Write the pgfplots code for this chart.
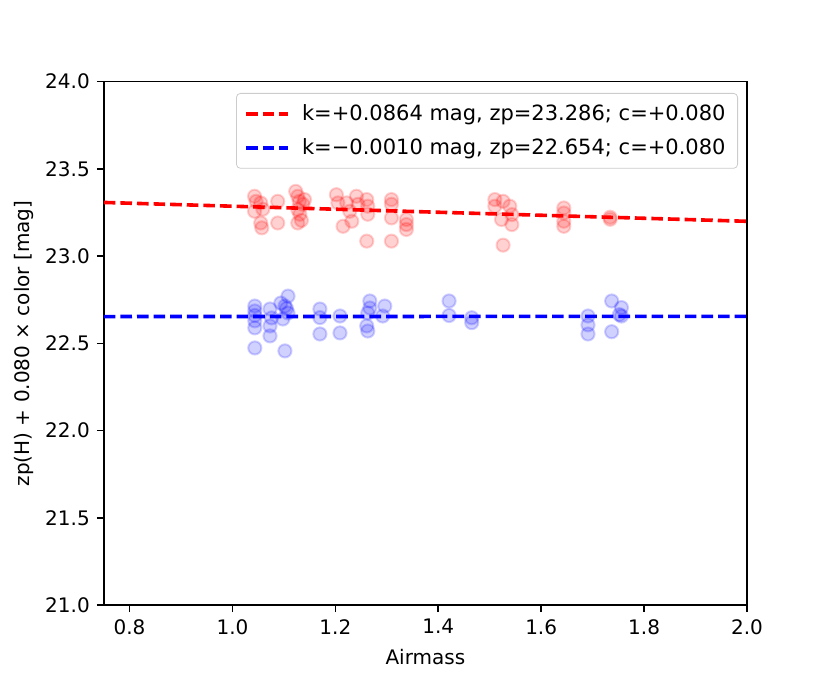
\documentclass[border=0pt]{standalone}
\usepackage{fontspec}
\setmainfont{DejaVu Sans}
\usepackage{pgfplots}
\pgfplotsset{compat=1.18}
\pgfplotstableread{
x y
1.043 23.343
1.046 23.314
1.043 23.257
1.055 23.305
1.059 23.269
1.055 23.190
1.057 23.162
1.088 23.314
1.088 23.190
1.123 23.371
1.127 23.343
1.130 23.314
1.137 23.297
1.140 23.324
1.127 23.267
1.131 23.240
1.127 23.190
1.134 23.205
1.202 23.352
1.205 23.305
1.215 23.171
1.222 23.305
1.228 23.257
1.241 23.343
1.244 23.297
1.232 23.200
1.261 23.324
1.263 23.286
1.263 23.240
1.261 23.086
1.309 23.324
1.309 23.297
1.309 23.219
1.309 23.086
1.338 23.210
1.338 23.181
1.338 23.153
1.510 23.324
1.510 23.286
1.526 23.314
1.523 23.210
1.539 23.286
1.543 23.238
1.543 23.181
1.526 23.063
1.644 23.276
1.644 23.247
1.644 23.200
1.644 23.171
1.734 23.223
1.734 23.211
}\redpts
\pgfplotstableread{
x y
1.0435 22.714
1.0435 22.686
1.0435 22.660
1.0435 22.629
1.0435 22.589
1.0435 22.474
1.073 22.697
1.076 22.646
1.073 22.600
1.073 22.543
1.094 22.731
1.102 22.714
1.108 22.771
1.108 22.674
1.098 22.640
1.105 22.700
1.102 22.457
1.170 22.697
1.170 22.648
1.170 22.554
1.209 22.657
1.209 22.560
1.267 22.743
1.267 22.703
1.263 22.674
1.261 22.600
1.263 22.571
1.296 22.714
1.292 22.657
1.421 22.743
1.421 22.660
1.465 22.647
1.465 22.619
1.691 22.657
1.691 22.606
1.691 22.554
1.737 22.743
1.737 22.567
1.756 22.705
1.756 22.657
1.752 22.665
}\bluepts
\begin{document}
\begin{tikzpicture}
\begin{axis}[
  at={(0,0)}, anchor=south west,
  scale only axis, width=321.6pt, height=261.8pt,
  xmin=0.75, xmax=2.0, ymin=21, ymax=24,
  xtick={0.8,1.0,1.2,1.4,1.6,1.8,2.0},
  ytick={21,21.5,22,22.5,23,23.5,24},
  tick pos=left, tick align=outside, major tick length=3.5pt,
  every tick/.style={black, line width=0.8pt},
  axis line style={line width=0.8pt},
  /pgf/number format/fixed,
  /pgf/number format/fixed zerofill,
  /pgf/number format/precision=1,
  /pgf/number format/assume math mode=true,
  ticklabel style={font=\fontsize{10}{12}\selectfont},
  xlabel={Airmass},
  ylabel={zp(H) + 0.080 × color [mag]},
  label style={font=\fontsize{10}{12}\selectfont},
  xlabel style={at={(axis description cs:0.5,0)}, anchor=center, yshift=-25.9pt},
  ylabel style={at={(axis description cs:-0.1241,0.5)}, anchor=center},
  legend style={at={(1,1)}, anchor=north east, xshift=-4.5pt, yshift=-5.7pt,
    draw=black!20, rounded corners=2pt, fill=white, fill opacity=0.8, text opacity=1,
    inner xsep=4pt, inner ysep=3.5pt, row sep=3.5pt, cells={anchor=west},
    /tikz/every odd column/.append style={column sep=4pt},
    font=\fontsize{10.5}{12.6}\selectfont},
  legend image code/.code={\draw[#1] (0pt,0pt) -- (21pt,0pt);},
]
\addplot[only marks, mark=*, mark size=3.3pt, mark options={draw=red, fill=red, opacity=0.18, line width=1pt}, forget plot] table[x=x,y=y] {\redpts};
\addplot[only marks, mark=*, mark size=3.3pt, mark options={draw=blue, fill=blue, opacity=0.18, line width=1pt}, forget plot] table[x=x,y=y] {\bluepts};
\addplot[red, line width=1.8pt, dash pattern=on 5.8pt off 2.5pt] coordinates {(0.75,23.3076) (2.0,23.1996)};
\addlegendentry{k=+0.0864 mag, zp=23.286; c=+0.080}
\addplot[blue, line width=1.8pt, dash pattern=on 5.8pt off 2.5pt] coordinates {(0.75,22.6538) (2.0,22.655)};
\addlegendentry{k=−0.0010 mag, zp=22.654; c=+0.080}
\end{axis}
\path[use as bounding box] (-51.9pt,-37.4pt) rectangle (363.1pt,302.6pt);
\end{tikzpicture}
\end{document}
